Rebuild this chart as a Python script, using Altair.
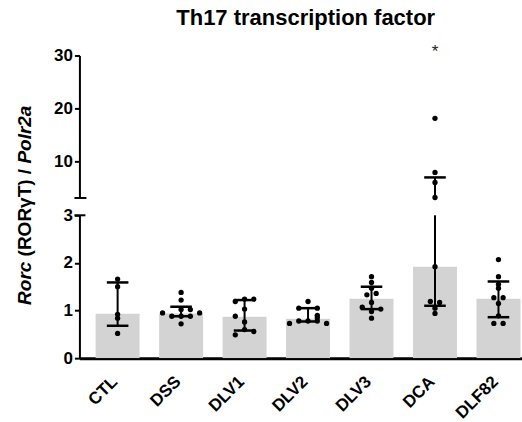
import json
import altair as alt
import pandas as pd

# ---- data ----
categories = ["CTL", "DSS", "DLV1", "DLV2", "DLV3", "DCA", "DLF82"]
medians = [0.93, 0.94, 0.87, 0.83, 1.25, 1.92, 1.25]
q1_vals = [0.68, 0.88, 0.58, 0.77, 1.03, 1.10, 0.86]
q3_vals = [1.59, 1.08, 1.22, 1.05, 1.50, 6.90, 1.61]

pt_group = (["CTL"] * 5 + ["DSS"] * 10 + ["DLV1"] * 9 + ["DLV2"] * 10
            + ["DLV3"] * 10 + ["DCA"] * 9 + ["DLF82"] * 10)
pt_value = [1.66, 1.50, 0.92, 0.84, 0.52,
            1.38, 1.22, 1.02, 1.02, 0.95, 0.95, 0.88, 0.88, 0.88, 0.72,
            1.19, 1.24, 1.24, 1.03, 0.88, 0.76, 0.60, 0.56, 0.49,
            1.19, 1.05, 1.05, 0.90, 0.85, 0.78, 0.78, 0.78, 0.73, 0.73,
            1.71, 1.59, 1.47, 1.36, 1.33, 1.17, 1.07, 1.03, 0.98, 0.84,
            18.1, 7.85, 5.96, 3.1, 1.92, 1.19, 1.17, 1.05, 0.94,
            2.07, 1.71, 1.55, 1.47, 1.27, 1.27, 1.15, 0.89, 0.73, 0.73]
# horizontal slot of each dot inside its group (scatter arrangement)
pt_slot = [0, 0, 0, 0, 0,
           0, 0, 0, 1, -2, 2, -1, 0, 1, 0,
           -1, 0, 1, 0, -1, 0, 0, 1, -1,
           0, -1, 1, 1, 1, -1, 0, 1, -2, 2,
           0, 0, 0, 0.5, -0.5, 0, -1, 1, 0, 0,
           0, 0, 0, 0, 0, -0.5, 0.5, 0, 0,
           0, 0, 0, 0, -0.5, 0.5, 0, 0, -0.5, 0.5]

sig_group = ["DCA"]
sig_text = ["*"]

title_text = "Th17 transcription factor"
ytitle_parts = ["Rorc", "(RORγT) /", "Polr2a"]
ytitle_styles = ["italic", "normal", "italic"]

bottom_ticks = [0, 1, 2, 3]
top_ticks = [10, 20, 30]
bottom_domain = [0, 3]
top_domain = [3, 30]
BREAK = 3

# ---- tables ----
idx = {c: i for i, c in enumerate(categories)}
bars = pd.DataFrame({"cat": categories, "idx": list(range(len(categories))),
                     "median": medians, "q1": q1_vals, "q3": q3_vals})
caps = pd.DataFrame({"idx": list(range(len(categories))) * 2,
                     "val": q1_vals + q3_vals})
pts = pd.DataFrame({"cat": pt_group, "value": pt_value, "slot": pt_slot})
pts["idx"] = pts["cat"].map(idx)
sig = pd.DataFrame({"cat": sig_group, "t": sig_text})
sig["idx"] = sig["cat"].map(idx)

# ---- layout ----
FONT = "Liberation Sans"
W = 443
H = 303          # whole plot height (both segments + gap)
TOP_BOTTOM = 142.7   # pixel where the upper segment ends
BOT_TOP = 160.0      # pixel where the lower segment starts
xdom = [-0.523, 6.292]
SLOT = 0.146
CAPW = 0.17
DOT = 28

label_expr = json.dumps(categories) + "[datum.value]"
xscale = alt.Scale(domain=xdom)

x_axis = alt.Axis(values=list(range(len(categories))), labelExpr=label_expr,
                  ticks=False, grid=False, labelAngle=-45, labelAlign="right",
                  labelBaseline="top", labelPadding=15, labelOffset=-9,
                  labelFontSize=17, labelFontWeight="bold", labelFont=FONT,
                  labelColor="black", labelFlush=False, labelOverlap=False,
                  labelBound=False, domainWidth=3, domainColor="black", title=None)


def X(field):
    return alt.X(field, scale=xscale, axis=x_axis)


def yaxis(values):
    return alt.Axis(values=values, orient="left", format="d", tickSize=5,
                    tickWidth=2, tickColor="black", domainWidth=2,
                    domainColor="black", labelFontSize=17, labelFontWeight="bold",
                    labelFont=FONT, labelColor="black", labelPadding=2,
                    grid=False, title=None, labelFlush=False, labelOverlap=False)


ytop = alt.Scale(domain=top_domain, range=[TOP_BOTTOM, 0])
ybot = alt.Scale(domain=bottom_domain, range=[H, BOT_TOP])

# ---- lower segment ----
bot_bars = alt.Chart(bars).mark_bar(size=44, color="#d3d3d3", clip=True).encode(
    x=X("idx:Q"),
    y=alt.Y("median:Q", scale=ybot, axis=yaxis(bottom_ticks)))
bot_rule = alt.Chart(bars).transform_calculate(
    hi=f"min(datum.q3, {BREAK})"
).mark_rule(color="black", strokeWidth=2).encode(
    x=X("idx:Q"), y=alt.Y("q1:Q", scale=ybot), y2="hi:Q")
bot_caps = alt.Chart(caps).transform_filter(f"datum.val <= {BREAK}").transform_calculate(
    xa=f"datum.idx - {CAPW}", xb=f"datum.idx + {CAPW}"
).mark_rule(color="black", strokeWidth=2.5).encode(
    x=X("xa:Q"), x2="xb:Q", y=alt.Y("val:Q", scale=ybot))
bot_pts = alt.Chart(pts).transform_filter(f"datum.value <= {BREAK}").transform_calculate(
    xp=f"datum.idx + datum.slot * {SLOT}"
).mark_circle(size=DOT, color="black", opacity=1).encode(
    x=X("xp:Q"), y=alt.Y("value:Q", scale=ybot))
bot_layer = alt.layer(bot_bars, bot_rule, bot_caps, bot_pts)

# ---- upper segment ----
top_rule = alt.Chart(bars).transform_filter(f"datum.q3 > {BREAK}").transform_calculate(
    lo=f"max(datum.q1, {BREAK})"
).mark_rule(color="black", strokeWidth=2).encode(
    x=X("idx:Q"),
    y=alt.Y("lo:Q", scale=ytop, axis=yaxis(top_ticks)), y2="q3:Q")
top_caps = alt.Chart(caps).transform_filter(f"datum.val > {BREAK}").transform_calculate(
    xa=f"datum.idx - {CAPW}", xb=f"datum.idx + {CAPW}"
).mark_rule(color="black", strokeWidth=2.5).encode(
    x=X("xa:Q"), x2="xb:Q", y=alt.Y("val:Q", scale=ytop))
top_pts = alt.Chart(pts).transform_filter(f"datum.value > {BREAK}").transform_calculate(
    xp=f"datum.idx + datum.slot * {SLOT}"
).mark_circle(size=DOT, color="black", opacity=1).encode(
    x=X("xp:Q"), y=alt.Y("value:Q", scale=ytop))
top_layer = alt.layer(top_rule, top_caps, top_pts)

# ---- decorations: axis-break marks, significance star, y title ----
one = pd.DataFrame({"a": [0]})
break_top = alt.Chart(one).mark_rule(color="black", strokeWidth=2).encode(
    x=alt.value(-5), x2=alt.value(7), y=alt.value(TOP_BOTTOM))
break_bot = alt.Chart(one).mark_rule(color="black", strokeWidth=2).encode(
    x=alt.value(-5), x2=alt.value(6), y=alt.value(BOT_TOP))
star = alt.Chart(sig).mark_text(fontSize=17, font=FONT, color="#222",
                                baseline="alphabetic").encode(
    x=X("idx:Q"), y=alt.value(2), text="t:N")

FS_T = 19
SPACE = 0.278
widths = [2.278, 4.611, 3.057]
pos = 249.7
title_layers = []
for part, style, w in zip(ytitle_parts, ytitle_styles, widths):
    title_layers.append(
        alt.Chart(pd.DataFrame({"t": [part]})).mark_text(
            angle=270, align="left", baseline="middle", fontSize=FS_T, font=FONT,
            fontWeight="bold", fontStyle=style, color="black").encode(
            x=alt.value(-54.5), y=alt.value(pos), text="t:N"))
    pos -= (w + SPACE) * FS_T

chart = alt.layer(
    bot_layer, top_layer, break_top, break_bot, star, *title_layers
).resolve_scale(y="independent").properties(
    width=W, height=H,
    title=alt.TitleParams(title_text, fontSize=22, fontWeight="bold", font=FONT,
                          color="black", anchor="middle", frame="group",
                          offset=13, dx=5),
    autosize=alt.AutoSizeParams(type="none"),
    padding={"left": 79.5, "top": 55.3, "right": 0, "bottom": 63.7},
).configure_view(stroke=None)

chart.save("out.html", embed_options={"renderer": "svg", "actions": False})
